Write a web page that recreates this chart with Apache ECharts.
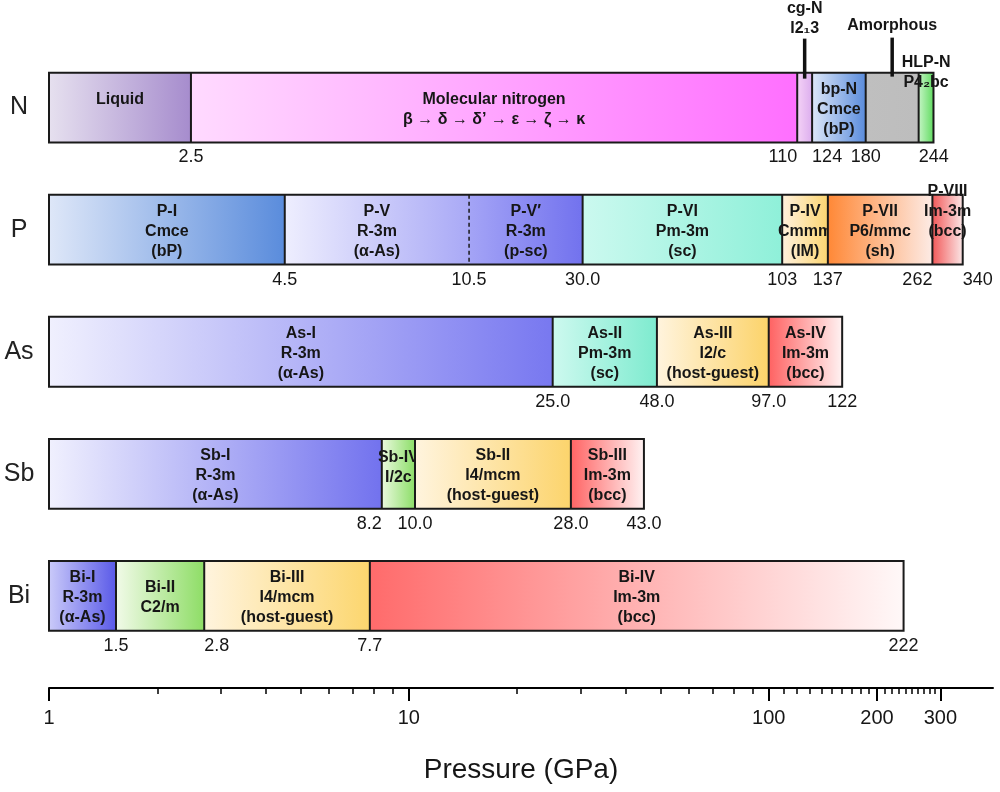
<!DOCTYPE html>
<html><head><meta charset="utf-8">
<script src="https://cdn.jsdelivr.net/npm/echarts@6/dist/echarts.min.js"></script>
<style>html,body{margin:0;padding:0;background:#fff}#chart{width:1000px;height:792px}</style>
</head><body><div id="chart"></div>
<script>
// ---------------- data ----------------
const elements = ['N', 'P', 'As', 'Sb', 'Bi'];

// Phase boundaries as drawn along the log pressure axis (GPa); first value = left end of the bar
const nEdges  = [1, 2.48, 120, 132, 186, 261, 287];
const pEdges  = [1, 4.52, 14.7, 30.4, 109, 146, 285, 346];
const asEdges = [1, 25.1, 48.9, 100, 160];
const sbEdges = [1, 8.41, 10.4, 28.2, 45];
const biEdges = [1, 1.535, 2.70, 7.79, 237];

// Phase names, one per segment
const nPhases  = ['Liquid', 'Molecular nitrogen\nβ → δ → δ’ → ε → ζ → κ', 'cg-N\nI2₁3', 'bp-N\nCmce\n(bP)', 'Amorphous', 'HLP-N\nP4₂bc'];
const pPhases  = ['P-I\nCmce\n(bP)', 'P-V\nR-3m\n(α-As)', 'P-V′\nR-3m\n(p-sc)', 'P-VI\nPm-3m\n(sc)', 'P-IV\nCmmm\n(IM)', 'P-VII\nP6/mmc\n(sh)', 'P-VIII\nIm-3m\n(bcc)'];
const asPhases = ['As-I\nR-3m\n(α-As)', 'As-II\nPm-3m\n(sc)', 'As-III\nI2/c\n(host-guest)', 'As-IV\nIm-3m\n(bcc)'];
const sbPhases = ['Sb-I\nR-3m\n(α-As)', 'Sb-IV\nI/2c', 'Sb-II\nI4/mcm\n(host-guest)', 'Sb-III\nIm-3m\n(bcc)'];
const biPhases = ['Bi-I\nR-3m\n(α-As)', 'Bi-II\nC2/m', 'Bi-III\nI4/mcm\n(host-guest)', 'Bi-IV\nIm-3m\n(bcc)'];

// Transition pressures printed under the boundaries (GPa)
const nEdgeLabels  = ['2.5', '110', '124', '180', '244', ''];
const pEdgeLabels  = ['4.5', '10.5', '30.0', '103', '137', '262', '340'];
const asEdgeLabels = ['25.0', '48.0', '97.0', '122'];
const sbEdgeLabels = ['8.2', '10.0', '28.0', '43.0'];
const biEdgeLabels = ['1.5', '2.8', '7.7', '222'];

// Axis ticks and labels
const majorTicks = [1, 10, 100, 200, 300];
const minorTicks = [2, 3, 4, 5, 6, 7, 8, 9, 20, 30, 40, 50, 60, 70, 80, 90,
  110, 120, 130, 140, 150, 160, 170, 180, 190, 210, 220, 230, 240, 250, 260, 270, 280, 290];
const tickLabels = [1, 10, 100, 200, 300];

// ---------------- styles ----------------
const nColors  = [['#e6e0ef', '#a68ccd'], ['#ffdaff', '#ff6fff'], ['#f4d2f6', '#dcaeee'], ['#dde7f8', '#5a8cdc'], ['#bfbfbf', '#bdbdbd'], ['#c4f4c4', '#62dc62']];
const pColors  = [['#dee7f8', '#5a8cdc'], ['#eeeefe', '#a9a9f6'], ['#a4a4f6', '#7272ee'], ['#cbf9ef', '#8ff0d9'], ['#fff1dd', '#fcd571'], ['#ff8836', '#fdebe5'], ['#f25a5a', '#fbe6e6']];
const asColors = [['#f0f0fe', '#7878f0'], ['#cdf9ef', '#7eebcf'], ['#fff4de', '#fcd36a'], ['#ff6262', '#fff2f2']];
const sbColors = [['#f0f0fe', '#7272ee'], ['#eaf9de', '#8cde68'], ['#fff4de', '#fcd46c'], ['#ff6464', '#fff2f2']];
const biColors = [['#cacaf9', '#5a5ae8'], ['#f1faE8', '#8edd66'], ['#fff4de', '#fcd66e'], ['#ff6b6b', '#fff8f8']];

const FONT = "'Liberation Sans', Arial, Helvetica, sans-serif";
const TXT = '#161616';
const outsideStyle = {
  'cg-N\nI2₁3': { dy: -54, leader: [-34, 6] },
  'Amorphous': { dy: -47, leader: [-35, 4] },
  'HLP-N\nP4₂bc': { dy: 0 }
};
const insideShift = { 'Liquid': -10, 'Sb-IV\nI/2c': -8, 'P-VIII\nIm-3m\n(bcc)': -20 };
const edgeLabelAlign = { 'N 110': 'right', 'N 124': 'left', 'N 244': 'left', 'P 262': 'right', 'P 340': 'left', 'Sb 8.2': 'right', 'Bi 2.8': 'left' };
const dashedEdges = { 'P': [2] };
const BAR_FRAC = 0.572;

// ---------------- build ----------------
const allEdges = [nEdges, pEdges, asEdges, sbEdges, biEdges];
const allPhases = [nPhases, pPhases, asPhases, sbPhases, biPhases];
const allColors = [nColors, pColors, asColors, sbColors, biColors];
const allEdgeLabels = [nEdgeLabels, pEdgeLabels, asEdgeLabels, sbEdgeLabels, biEdgeLabels];

const segData = [];
const barData = [];
allEdges.forEach((edges, ci) => {
  for (let k = 0; k < edges.length - 1; k++) segData.push([edges[k], edges[k + 1], ci, k]);
  barData.push([edges[0], edges[edges.length - 1], ci]);
});
const annoData = segData.filter(d => outsideStyle[allPhases[d[2]][d[3]]]);

function grad(c) {
  return { type: 'linear', x: 0, y: 0, x2: 1, y2: 0, colorStops: [{ offset: 0, color: c[0] }, { offset: 1, color: c[1] }] };
}

function renderSeg(params, api) {
  const ci = api.value(2), k = api.value(3);
  const p0 = api.coord([api.value(0), ci]);
  const p1 = api.coord([api.value(1), ci]);
  const h = api.size([1, 1])[1] * BAR_FRAC;
  const name = allPhases[ci][k];
  const children = [{
    type: 'rect',
    shape: { x: p0[0], y: p0[1] - h / 2, width: p1[0] - p0[0], height: h },
    style: { fill: grad(allColors[ci][k]) }
  }];
  if (!outsideStyle[name]) {
    children.push({
      type: 'text', x: (p0[0] + p1[0]) / 2, y: p0[1] + 2 + (insideShift[name] || 0),
      style: { text: name, fill: TXT, fontSize: 16, fontWeight: 'bold', fontFamily: FONT, align: 'center', verticalAlign: 'middle', lineHeight: 20 }
    });
  }
  return { type: 'group', children };
}

function renderBorders(params, api) {
  const ci = api.value(2);
  const edges = allEdges[ci];
  const yc = api.coord([1, ci])[1];
  const h = api.size([1, 1])[1] * BAR_FRAC;
  const top = yc - h / 2, bot = yc + h / 2;
  const xs = edges.map(v => api.coord([v, ci])[0]);
  const children = [];
  const dashed = dashedEdges[elements[ci]] || [];
  for (let i = 1; i < xs.length - 1; i++) {
    children.push({
      type: 'line', shape: { x1: xs[i], y1: top, x2: xs[i], y2: bot },
      style: { stroke: '#1a1a1a', lineWidth: dashed.indexOf(i) >= 0 ? 1.5 : 2, lineDash: dashed.indexOf(i) >= 0 ? [4, 3] : null }
    });
  }
  children.push({
    type: 'rect', shape: { x: xs[0], y: top, width: xs[xs.length - 1] - xs[0], height: h },
    style: { fill: null, stroke: '#1a1a1a', lineWidth: 2 }
  });
  const labels = allEdgeLabels[ci];
  for (let i = 1; i < xs.length; i++) {
    const t = labels[i - 1];
    if (!t) continue;
    children.push({
      type: 'text', x: xs[i], y: bot + 15,
      style: { text: t, fill: TXT, fontSize: 18, fontFamily: FONT, align: edgeLabelAlign[elements[ci] + ' ' + t] || 'center', verticalAlign: 'middle' }
    });
  }
  return { type: 'group', children };
}

function renderAnno(params, api) {
  const ci = api.value(2), k = api.value(3);
  const p0 = api.coord([api.value(0), ci]);
  const p1 = api.coord([api.value(1), ci]);
  const h = api.size([1, 1])[1] * BAR_FRAC;
  const top = p0[1] - h / 2;
  const cx = (p0[0] + p1[0]) / 2;
  const name = allPhases[ci][k];
  const st = outsideStyle[name];
  const children = [{
    type: 'text', x: cx, y: top + st.dy,
    style: { text: name, fill: TXT, fontSize: 16, fontWeight: 'bold', fontFamily: FONT, align: 'center', verticalAlign: 'middle', lineHeight: 20 }
  }];
  if (st.leader) {
    children.push({ type: 'line', shape: { x1: cx, y1: top + st.leader[0], x2: cx, y2: top + st.leader[1] }, style: { stroke: '#111', lineWidth: 3.5 } });
  }
  return { type: 'group', children };
}

const chart = echarts.init(document.getElementById('chart'), null, { renderer: 'canvas' });
chart.setOption({
  animation: false,
  backgroundColor: '#fff',
  grid: { left: 49, right: 7, top: 46.5, bottom: 135, containLabel: false, outerBoundsMode: 'none' },
  xAxis: [{
    type: 'log', logBase: 10, min: 1, max: 420, position: 'bottom', offset: 31,
    axisLine: { show: true, onZero: false, lineStyle: { color: '#000', width: 2 } },
    axisTick: { show: true, customValues: minorTicks, length: 6, lineStyle: { color: '#000', width: 1.5 } },
    axisLabel: { show: true, customValues: tickLabels, margin: 20, fontSize: 20, color: TXT, fontFamily: FONT },
    splitLine: { show: false }, minorTick: { show: false },
    name: 'Pressure (GPa)', nameLocation: 'middle', nameGap: 68,
    nameTextStyle: { fontSize: 28, color: TXT, fontFamily: FONT }
  }, {
    type: 'log', logBase: 10, min: 1, max: 420, position: 'bottom', offset: 31, gridIndex: 0,
    axisLine: { show: false },
    axisTick: { show: true, customValues: majorTicks, length: 13, lineStyle: { color: '#000', width: 2 } },
    axisLabel: { show: false }, splitLine: { show: false }
  }],
  yAxis: {
    type: 'category', data: elements, inverse: true,
    axisLine: { show: false }, axisTick: { show: false }, splitLine: { show: false },
    axisLabel: { fontSize: 25, color: '#222', align: 'center', margin: 30, fontFamily: FONT }
  },
  series: [
    { type: 'custom', name: 'phases', data: segData, encode: { x: [0, 1], y: 2 }, renderItem: renderSeg, z: 2, clip: false },
    { type: 'custom', name: 'borders', data: barData, encode: { x: [0, 1], y: 2 }, renderItem: renderBorders, z: 3, clip: false },
    { type: 'custom', name: 'notes', data: annoData, encode: { x: [0, 1], y: 2 }, renderItem: renderAnno, z: 4, clip: false }
  ]
});
</script></body></html>
